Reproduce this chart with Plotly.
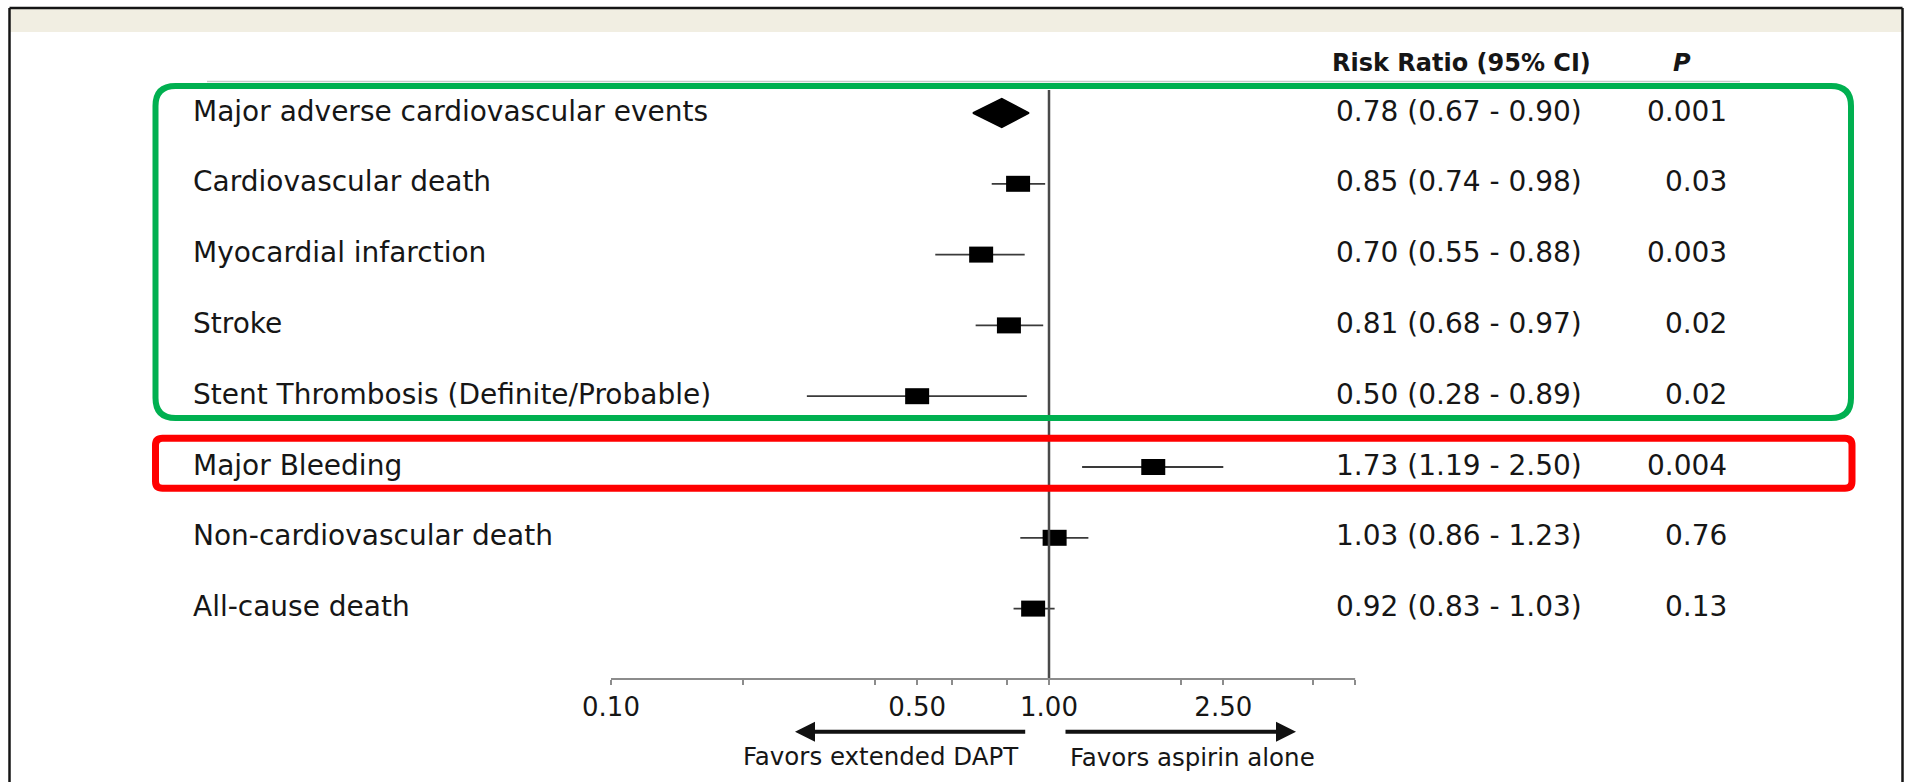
import plotly.graph_objects as go

# ---------------- data ----------------
outcomes = [
    "Major adverse cardiovascular events",
    "Cardiovascular death",
    "Myocardial infarction",
    "Stroke",
    "Stent Thrombosis (Definite/Probable)",
    "Major Bleeding",
    "Non-cardiovascular death",
    "All-cause death",
]
risk_ratio = [0.78, 0.85, 0.70, 0.81, 0.50, 1.73, 1.03, 0.92]
ci_low = [0.67, 0.74, 0.55, 0.68, 0.28, 1.19, 0.86, 0.83]
ci_high = [0.90, 0.98, 0.88, 0.97, 0.89, 2.50, 1.23, 1.03]
p_values = ["0.001", "0.03", "0.003", "0.02", "0.02", "0.004", "0.76", "0.13"]
is_summary = [True, False, False, False, False, False, False, False]

tick_vals = [0.1, 0.2, 0.4, 0.5, 0.6, 0.8, 1.0, 2.0, 2.5, 4.0, 5.0]
tick_text = ["0.10", "", "", "0.50", "", "", "1.00", "", "2.50", "", ""]
axis_min, axis_max = 0.1, 5.0

header_rr = "Risk Ratio (95% CI)"
header_p = "P"
favors_left = "Favors extended DAPT"
favors_right = "Favors aspirin alone"

# ---------------- layout helpers (pixels -> paper) ----------------
W, H = 1906, 782
AXIS_Y = 679          # pixel row of the x axis line (bottom of plot area)
ROW0_Y = 113          # pixel row of first outcome
ROW_STEP = 70.8       # pixels between rows
X_ONE = 1049          # pixel of RR = 1
DECADE = 438          # pixels per decade

def px(x):
    return x / W

def py(y):
    return (AXIS_Y - y) / AXIS_Y

x_range = [-X_ONE / DECADE, (W - X_ONE) / DECADE]
y_top = -ROW0_Y / ROW_STEP
y_bot = y_top + AXIS_Y / ROW_STEP

FONT = "DejaVu Sans"
TXT = "#161616"

rows = list(range(len(outcomes)))
pt_rows = [i for i in rows if not is_summary[i]]

fig = go.Figure()

# CI lines (error bars) for non-summary rows
fig.add_trace(go.Scatter(
    x=[risk_ratio[i] for i in pt_rows],
    y=[rows[i] for i in pt_rows],
    mode="markers",
    marker=dict(size=2, color="rgba(0,0,0,0)"),
    error_x=dict(
        type="data", symmetric=False,
        array=[ci_high[i] - risk_ratio[i] for i in pt_rows],
        arrayminus=[risk_ratio[i] - ci_low[i] for i in pt_rows],
        thickness=1.8, width=0, color="#3a3a3a",
    ),
    hoverinfo="skip", showlegend=False,
))

# point estimates: ~24x16 px filled boxes (thick horizontal line markers;
# plotly draws line-ew with length 1.4 * size)
fig.add_trace(go.Scatter(
    x=[risk_ratio[i] for i in pt_rows],
    y=[rows[i] for i in pt_rows],
    mode="markers",
    marker=dict(symbol="line-ew", size=24 / 1.4, line=dict(color="black", width=16)),
    hoverinfo="skip", showlegend=False,
))

# Summary diamond(s)
DIA_H = 14.5 / ROW_STEP
for i in rows:
    if is_summary[i]:
        fig.add_trace(go.Scatter(
            x=[ci_low[i], risk_ratio[i], ci_high[i], risk_ratio[i], ci_low[i]],
            y=[rows[i], rows[i] - DIA_H, rows[i], rows[i] + DIA_H, rows[i]],
            mode="lines", fill="toself", fillcolor="black",
            line=dict(color="black", width=1.5),
            hoverinfo="skip", showlegend=False,
        ))

shapes = []

# beige band + frame
shapes.append(dict(type="rect", xref="paper", yref="paper",
                   x0=px(10), x1=px(1902), y0=py(9), y1=py(32),
                   fillcolor="#f1eee2", line=dict(width=0), layer="below"))
for (x0, y0, x1, y1) in [(9.5, 8, 9.5, 782), (9.5, 8, 1902.5, 8), (1902.5, 8, 1902.5, 782)]:
    shapes.append(dict(type="line", xref="paper", yref="paper",
                       x0=px(x0), x1=px(x1), y0=py(y0), y1=py(y1),
                       line=dict(color="#151515", width=2.5)))

# faint header rule
shapes.append(dict(type="line", xref="paper", yref="paper",
                   x0=px(207), x1=px(1740), y0=py(81.5), y1=py(81.5),
                   line=dict(color="#c9c9c9", width=1.5)))

# reference line at RR = 1
shapes.append(dict(type="line", xref="x", yref="paper",
                   x0=1.0, x1=1.0, y0=0, y1=py(90),
                   line=dict(color="#4a4a4a", width=2.5)))

# axis line from axis_min to axis_max
shapes.append(dict(type="line", xref="x", yref="paper",
                   x0=axis_min, x1=axis_max, y0=0, y1=0,
                   line=dict(color="#8c8c8c", width=2)))

def rounded_rect(x0, y0, x1, y1, r):
    return (f"M {px(x0 + r)},{py(y0)} L {px(x1 - r)},{py(y0)} "
            f"Q {px(x1)},{py(y0)} {px(x1)},{py(y0 + r)} "
            f"L {px(x1)},{py(y1 - r)} Q {px(x1)},{py(y1)} {px(x1 - r)},{py(y1)} "
            f"L {px(x0 + r)},{py(y1)} Q {px(x0)},{py(y1)} {px(x0)},{py(y1 - r)} "
            f"L {px(x0)},{py(y0 + r)} Q {px(x0)},{py(y0)} {px(x0 + r)},{py(y0)} Z")

shapes.append(dict(type="path", xref="paper", yref="paper",
                   path=rounded_rect(155.5, 86, 1851, 418, 20),
                   line=dict(color="#00b050", width=6)))
shapes.append(dict(type="path", xref="paper", yref="paper",
                   path=rounded_rect(155.5, 438.3, 1852, 488.3, 7),
                   line=dict(color="#ff0000", width=7)))

annotations = []

# headers
annotations.append(dict(text=f"<b>{header_rr}</b>", xref="paper", yref="paper",
                        x=px(1461), y=py(63), xanchor="center", yanchor="middle",
                        showarrow=False, font=dict(family=FONT, size=24, color=TXT)))
annotations.append(dict(text=f"<b><i>{header_p}</i></b>", xref="paper", yref="paper",
                        x=px(1682), y=py(63), xanchor="center", yanchor="middle",
                        showarrow=False, font=dict(family=FONT, size=24, color=TXT)))

for i in rows:
    annotations.append(dict(text=outcomes[i], xref="paper", yref="y",
                            x=px(191), y=rows[i], xanchor="left", yanchor="middle",
                            yshift=2, showarrow=False,
                            font=dict(family=FONT, size=28, color=TXT)))
    annotations.append(dict(text=f"{risk_ratio[i]:.2f} ({ci_low[i]:.2f} - {ci_high[i]:.2f})",
                            xref="paper", yref="y",
                            x=px(1459), y=rows[i], xanchor="center", yanchor="middle",
                            yshift=2, showarrow=False,
                            font=dict(family=FONT, size=28, color=TXT)))
    annotations.append(dict(text=p_values[i], xref="paper", yref="y",
                            x=px(1729), y=rows[i], xanchor="right", yanchor="middle",
                            yshift=2, showarrow=False,
                            font=dict(family=FONT, size=28, color=TXT)))

# favour arrows
annotations.append(dict(text="", xref="paper", yref="paper",
                        x=px(795), y=py(731.7), ax=1026.7 - 795, ay=0,
                        showarrow=True, arrowhead=2, arrowsize=1, arrowwidth=4,
                        arrowcolor="#111111", standoff=0, startstandoff=0))
annotations.append(dict(text="", xref="paper", yref="paper",
                        x=px(1296), y=py(731.7), ax=1064 - 1296, ay=0,
                        showarrow=True, arrowhead=2, arrowsize=1, arrowwidth=4,
                        arrowcolor="#111111", standoff=0, startstandoff=0))
annotations.append(dict(text=favors_left, xref="paper", yref="paper",
                        x=px(881), y=py(756), xanchor="center", yanchor="middle",
                        showarrow=False, font=dict(family=FONT, size=24.5, color=TXT)))
annotations.append(dict(text=favors_right, xref="paper", yref="paper",
                        x=px(1192.6), y=py(757), xanchor="center", yanchor="middle",
                        showarrow=False, font=dict(family=FONT, size=24.5, color=TXT)))

fig.update_layout(
    width=W, height=H,
    margin=dict(l=0, r=0, t=0, b=H - AXIS_Y),
    paper_bgcolor="white", plot_bgcolor="white",
    showlegend=False, hovermode=False,
    shapes=shapes, annotations=annotations,
    xaxis=dict(type="log", range=x_range, showgrid=False, zeroline=False,
               showline=False, ticks="outside", ticklen=5, tickwidth=1.5,
               tickcolor="#8c8c8c", tickvals=tick_vals, ticktext=tick_text,
               tickfont=dict(family=FONT, size=26, color=TXT), fixedrange=True),
    yaxis=dict(range=[y_bot, y_top], visible=False, fixedrange=True),
)

fig.write_html("out.html", config={"displayModeBar": False},
               post_script="document.body.style.margin='0px';document.body.style.overflow='hidden';")
